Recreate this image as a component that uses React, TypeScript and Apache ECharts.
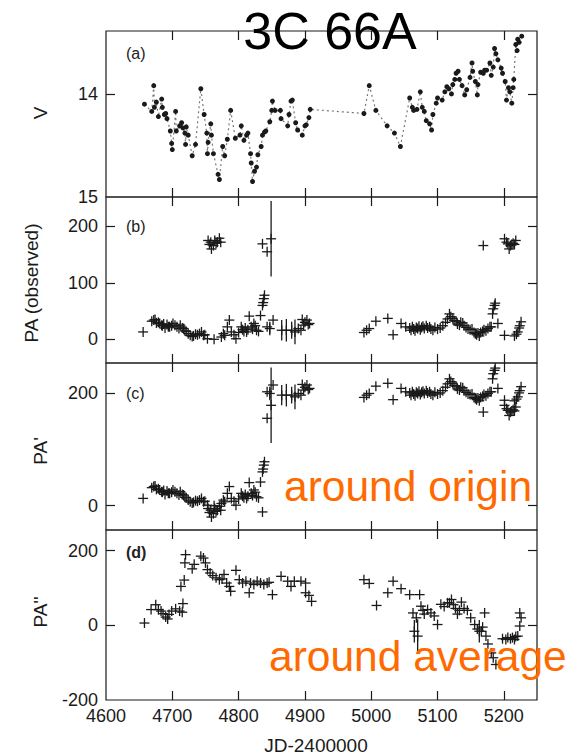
import React, { useEffect, useRef } from "react";
import * as echarts from "echarts";

const xTickValues = [4600, 4700, 4800, 4900, 5000, 5100, 5200];
const xInnerTicks = [4700, 4800, 4900, 5000, 5100, 5200];
const vTicks = [14, 15];
const paObsTicks = [0, 100, 200];
const paPrimeTicks = [0, 200];
const paDblTicks = [-200, 0, 200];

const panelLabels = ["(a)", "(b)", "(c)", "(d)"];
const yNames = ["V", "PA (observed)", "PA'", "PA''"];
const titleText = "3C 66A";
const xName = "JD-2400000";
const noteOrigin = "around origin";
const noteAverage = "around average";

// (a) V magnitude [JD-2400000, V]
const vData: number[][] = [
  [4658, 14.1], [4669, 14.17], [4672, 13.92], [4673, 14.13], [4676, 14.08], [4679, 14.22], [4684, 14.05],
  [4685, 14.13], [4688, 14.2], [4690, 14.19], [4692, 14.24], [4697, 14.36], [4699, 14.48], [4700, 14.54],
  [4705, 14.17], [4706, 14.36], [4711, 14.31], [4714, 14.28], [4716, 14.33], [4719, 14.38], [4720, 14.49],
  [4721, 14.32], [4724, 14.4], [4730, 14.6], [4735, 14.49], [4743, 13.95], [4748, 14.2], [4752, 14.38],
  [4753, 14.58], [4754, 14.47], [4758, 14.29], [4759, 14.4], [4762, 14.58], [4769, 14.78], [4771, 14.83],
  [4776, 14.51], [4779, 14.6], [4783, 14.44], [4788, 14.16], [4795, 14.43], [4802, 14.4], [4804, 14.31],
  [4808, 14.45], [4812, 14.4], [4814, 14.38], [4818, 14.58], [4819, 14.67], [4821, 14.85], [4824, 14.75],
  [4827, 14.71], [4829, 14.59], [4834, 14.51], [4836, 14.4], [4839, 14.37], [4841, 14.36], [4847, 14.27],
  [4850, 14.16], [4851, 14.07], [4855, 14.16], [4863, 14.16], [4864, 14.24], [4874, 14.31], [4876, 14.2],
  [4879, 14.07], [4881, 14.06], [4886, 14.28], [4889, 14.35], [4896, 14.4], [4900, 14.31], [4902, 14.3],
  [4906, 14.23], [4908, 14.15], [4989, 14.19], [4997, 13.92], [5007, 14.16], [5024, 14.31], [5035, 14.38],
  [5044, 14.51], [5058, 14.04], [5062, 14.13], [5064, 14.16], [5069, 14.15], [5074, 13.98], [5077, 14.13],
  [5080, 14.17], [5083, 14.26], [5088, 14.29], [5091, 14.35], [5093, 14.2], [5098, 14.09], [5100, 14.04],
  [5107, 14.06], [5111, 13.98], [5114, 13.93], [5117, 13.95], [5121, 14.0], [5123, 13.91], [5126, 13.86],
  [5128, 13.8], [5131, 13.78], [5133, 13.86], [5137, 13.92], [5141, 14.01], [5144, 13.96], [5149, 13.84],
  [5152, 13.7], [5153, 13.78], [5157, 13.88], [5160, 14.01], [5161, 13.91], [5165, 13.79], [5169, 13.8],
  [5171, 13.77], [5174, 13.77], [5179, 13.7], [5181, 13.82], [5184, 13.74], [5186, 13.56], [5188, 13.61],
  [5191, 13.67], [5196, 13.75], [5198, 13.8], [5202, 13.88], [5204, 14.06], [5207, 13.94], [5209, 13.98],
  [5212, 14.09], [5214, 13.94], [5215, 13.86], [5218, 13.52], [5220, 13.58], [5221, 13.47], [5223, 13.5],
  [5227, 13.44],
];

// (b) observed PA [JD, PA, error]
const paObs: number[][] = [
  [4656, 13, 0], [4669, 32, 0], [4672, 34, 0], [4674, 35, 0], [4676, 29, 0], [4679, 30, 0], [4681, 28, 0],
  [4684, 25, 0], [4685, 24, 0], [4687, 27, 0], [4689, 20, 0], [4692, 26, 0], [4694, 22, 0], [4696, 22, 0],
  [4699, 24, 0], [4701, 28, 0], [4704, 25, 0], [4707, 22, 0], [4710, 19, 0], [4712, 25, 0], [4715, 20, 0],
  [4717, 19, 0], [4719, 15, 0], [4721, 14, 0], [4724, 10, 0], [4727, 7, 0], [4730, 5, 0], [4732, 6, 0],
  [4735, 9, 0], [4738, 8, 0], [4741, 10, 0], [4744, 13, 0], [4747, 7, 0], [4749, 8, 0], [4753, 1, 0],
  [4754, 175, 0], [4756, 168, 0], [4758, 172, 0], [4759, 160, 0], [4762, 166, 0], [4763, 0, 0],
  [4764, 175, 0], [4766, 170, 0], [4768, 172, 0], [4771, 179, 0], [4773, 172, 0], [4774, 4, 0],
  [4777, 10, 0], [4779, 7, 0], [4783, 22, 0], [4786, 34, 0], [4789, 13, 0], [4793, 8, 0], [4796, 1, 0],
  [4800, 12, 0], [4804, 22, 0], [4806, 17, 0], [4808, 14, 0], [4810, 20, 0], [4812, 13, 0], [4814, 17, 0],
  [4816, 41, 0], [4819, 22, 0], [4821, 18, 0], [4823, 28, 0], [4825, 24, 0], [4827, 16, 0], [4830, 14, 0],
  [4833, 42, 0], [4836, 60, 0], [4836, 169, 0], [4837, 65, 0], [4838, 72, 0], [4839, 78, 0],
  [4843, 155, 0], [4843, 22, 0], [4847, 19, 12], [4849, 178, 67], [4852, 34, 0], [4865, 16, 18],
  [4872, 16, 20], [4880, 16, 15], [4885, 13, 22], [4890, 19, 0], [4894, 16, 0], [4896, 35, 0],
  [4898, 25, 0], [4900, 30, 0], [4903, 34, 0], [4905, 26, 0], [4907, 28, 0],
  [4989, 12, 0], [4993, 16, 0], [4997, 19, 0], [5007, 32, 0], [5025, 37, 0], [5033, 8, 0], [5045, 28, 0],
  [5052, 22, 0], [5058, 20, 0], [5060, 16, 0], [5062, 22, 0], [5064, 18, 0], [5066, 15, 0], [5068, 21, 0],
  [5070, 19, 0], [5072, 23, 0], [5074, 17, 0], [5076, 21, 0], [5078, 23, 0], [5080, 19, 0], [5083, 24, 0],
  [5085, 20, 0], [5088, 22, 0], [5090, 18, 0], [5093, 16, 0], [5096, 21, 0], [5100, 18, 0], [5104, 20, 0],
  [5108, 24, 0], [5112, 30, 0], [5115, 36, 0], [5118, 45, 0], [5120, 40, 0], [5123, 37, 0], [5125, 33, 0],
  [5128, 32, 0], [5130, 27, 0], [5133, 25, 0], [5135, 30, 0], [5138, 29, 0], [5140, 24, 0], [5143, 21, 0],
  [5146, 18, 0], [5149, 17, 0], [5152, 18, 0], [5155, 12, 0], [5157, 10, 0], [5159, 8, 0], [5161, 11, 0],
  [5163, 6, 0], [5165, 12, 0], [5168, 14, 0], [5169, 166, 0], [5170, 17, 0], [5173, 15, 0], [5176, 19, 0],
  [5179, 22, 0], [5181, 22, 0], [5183, 45, 0], [5184, 54, 0], [5186, 60, 0], [5187, 64, 0], [5191, 28, 0],
  [5201, 7, 0], [5201, 178, 0], [5204, 172, 0], [5206, 169, 0], [5208, 160, 0], [5210, 166, 0],
  [5212, 168, 0], [5214, 170, 0], [5216, 168, 0], [5218, 175, 0], [5216, 6, 0], [5219, 9, 0],
  [5221, 13, 0], [5223, 20, 0], [5224, 24, 0], [5226, 31, 0],
];

// (c) PA' [JD, PA', error]
const paPrime: number[][] = [
  [4656, 13, 0], [4669, 32, 0], [4672, 34, 0], [4674, 35, 0], [4676, 29, 0], [4679, 30, 0], [4681, 28, 0],
  [4684, 25, 0], [4685, 24, 0], [4687, 27, 0], [4689, 20, 0], [4692, 26, 0], [4694, 22, 0], [4696, 22, 0],
  [4699, 24, 0], [4701, 28, 0], [4704, 25, 0], [4707, 22, 0], [4710, 19, 0], [4712, 25, 0], [4715, 20, 0],
  [4717, 19, 0], [4719, 15, 0], [4721, 14, 0], [4724, 10, 0], [4727, 7, 0], [4730, 5, 0], [4732, 6, 0],
  [4735, 9, 0], [4738, 8, 0], [4741, 10, 0], [4744, 13, 0], [4747, 7, 0], [4749, 8, 0], [4753, 1, 0],
  [4754, -5, 0], [4756, -12, 0], [4758, -8, 0], [4759, -20, 0], [4762, -14, 0], [4763, 0, 0],
  [4764, -5, 0], [4766, -10, 0], [4768, -8, 0], [4771, -1, 0], [4773, -8, 0], [4774, 4, 0],
  [4777, 10, 0], [4779, 7, 0], [4783, 22, 0], [4786, 34, 0], [4789, 13, 0], [4793, 8, 0], [4796, 1, 0],
  [4800, 12, 0], [4804, 22, 0], [4806, 17, 0], [4808, 14, 0], [4810, 20, 0], [4812, 13, 0], [4814, 17, 0],
  [4816, 41, 0], [4819, 22, 0], [4821, 18, 0], [4823, 28, 0], [4825, 24, 0], [4827, 16, 0], [4830, 14, 0],
  [4833, 42, 0], [4836, 60, 0], [4836, -11, 0], [4837, 65, 0], [4838, 72, 0], [4839, 78, 0],
  [4843, 155, 0], [4843, 202, 0], [4847, 199, 12], [4849, 178, 67], [4852, 214, 0], [4865, 196, 18],
  [4872, 196, 20], [4880, 196, 15], [4885, 193, 22], [4890, 199, 0], [4894, 196, 0], [4896, 215, 0],
  [4898, 205, 0], [4900, 210, 0], [4903, 214, 0], [4905, 206, 0], [4907, 208, 0],
  [4989, 192, 0], [4993, 196, 0], [4997, 199, 0], [5007, 212, 0], [5025, 217, 0], [5033, 188, 0],
  [5045, 208, 0], [5052, 202, 0], [5058, 200, 0], [5060, 196, 0], [5062, 202, 0], [5064, 198, 0],
  [5066, 195, 0], [5068, 201, 0], [5070, 199, 0], [5072, 203, 0], [5074, 197, 0], [5076, 201, 0],
  [5078, 203, 0], [5080, 199, 0], [5083, 204, 0], [5085, 200, 0], [5088, 202, 0], [5090, 198, 0],
  [5093, 196, 0], [5096, 201, 0], [5100, 198, 0], [5104, 200, 0], [5108, 204, 0], [5112, 210, 0],
  [5115, 216, 0], [5118, 225, 0], [5120, 220, 0], [5123, 217, 0], [5125, 213, 0], [5128, 212, 0],
  [5130, 207, 0], [5133, 205, 0], [5135, 210, 0], [5138, 209, 0], [5140, 204, 0], [5143, 201, 0],
  [5146, 198, 0], [5149, 197, 0], [5152, 198, 0], [5155, 192, 0], [5157, 190, 0], [5159, 188, 0],
  [5161, 191, 0], [5163, 186, 0], [5165, 192, 0], [5168, 194, 0], [5169, 166, 0], [5170, 197, 0],
  [5173, 195, 0], [5176, 199, 0], [5179, 202, 0], [5181, 202, 0], [5183, 225, 0], [5184, 234, 0],
  [5186, 240, 0], [5187, 244, 0], [5191, 208, 0], [5201, 187, 0], [5201, 178, 0], [5204, 172, 0],
  [5206, 169, 0], [5208, 160, 0], [5210, 166, 0], [5212, 168, 0], [5214, 170, 0], [5216, 168, 0],
  [5218, 175, 0], [5216, 186, 0], [5219, 189, 0], [5221, 193, 0], [5223, 200, 0], [5224, 204, 0],
  [5226, 211, 0],
];

// (d) PA'' [JD, PA'', error]
const paDouble: number[][] = [
  [4658, 6, 0], [4668, 42, 0], [4675, 55, 0], [4679, 42, 0], [4683, 38, 0], [4686, 31, 0], [4690, 22, 0],
  [4693, 17, 0], [4695, 29, 0], [4699, 38, 0], [4705, 44, 0], [4711, 38, 0], [4716, 58, 0], [4715, 35, 0],
  [4713, 104, 0], [4718, 121, 0], [4719, 167, 0], [4720, 189, 0], [4730, 151, 0], [4733, 163, 0],
  [4743, 185, 0], [4747, 180, 0], [4750, 167, 0], [4753, 149, 0], [4757, 140, 0], [4761, 133, 0],
  [4766, 127, 0], [4771, 122, 0], [4775, 124, 0], [4778, 136, 0], [4782, 113, 0], [4786, 104, 0],
  [4788, 91, 0], [4796, 147, 0], [4801, 122, 0], [4806, 113, 0], [4811, 118, 0], [4816, 87, 0],
  [4818, 113, 0], [4823, 109, 0], [4828, 118, 0], [4833, 113, 0], [4838, 109, 0], [4843, 113, 0],
  [4846, 115, 0], [4851, 82, 0], [4864, 131, 0], [4874, 118, 0], [4879, 104, 0], [4884, 118, 0],
  [4894, 118, 0], [4901, 113, 0], [4901, 87, 0], [4906, 80, 0], [4910, 64, 0],
  [4989, 122, 0], [4997, 112, 0], [5008, 53, 0], [5025, 87, 0], [5033, 118, 0], [5045, 98, 0],
  [5058, 82, 0], [5063, 33, 0], [5065, -16, 30], [5068, 20, 0], [5070, -29, 45], [5073, 82, 0],
  [5075, 51, 0], [5078, 40, 0], [5080, 30, 0], [5085, 42, 0], [5090, 33, 0], [5095, 25, 0], [5100, 2, 0],
  [5105, 56, 0], [5110, 50, 0], [5115, 60, 0], [5118, 60, 0], [5121, 69, 0], [5124, 55, 0], [5127, 45, 0],
  [5130, 30, 0], [5133, 40, 0], [5136, 62, 0], [5140, 45, 0], [5145, 40, 0], [5150, 20, 0], [5156, 2, 0],
  [5160, -10, 0], [5163, -16, 30], [5166, -16, 0], [5168, -5, 0], [5171, 33, 0], [5173, -29, 0],
  [5176, -50, 0], [5181, -74, 0], [5184, -87, 0], [5188, -105, 0], [5198, -36, 0], [5203, -38, 0],
  [5206, -33, 0], [5210, -36, 0], [5213, -33, 0], [5216, -38, 0], [5218, -30, 0], [5221, -29, 0],
  [5224, -2, 0], [5226, 20, 0], [5224, 33, 0],
];

const FONT = "'Liberation Sans', Arial, Helvetica, sans-serif";
const INK = "#1a1a1a";

export default function App() {
  const ref = useRef<HTMLDivElement>(null);
  useEffect(() => {
    const chart = echarts.init(ref.current as HTMLDivElement, null, { renderer: "svg" });
    const left = 106;
    const width = 431;
    const panels = [
      { top: 31, height: 166, min: 13.39, max: 15, inverse: true, ticks: vTicks },
      { top: 197, height: 166, min: -42, max: 252, inverse: false, ticks: paObsTicks },
      { top: 363, height: 167, min: -43, max: 253, inverse: false, ticks: paPrimeTicks },
      { top: 530, height: 170, min: -200, max: 255, inverse: false, ticks: paDblTicks },
    ];
    const grid = panels.map((p) => ({
      left, width, top: p.top, height: p.height, show: true,
      borderColor: INK, borderWidth: 1.2, backgroundColor: "transparent",
    }));
    const tickStyle = { color: INK, width: 1.2 };
    const plain = (v: number) => String(v);
    const xAxis: any[] = [];
    const yAxis: any[] = [];
    panels.forEach((p, i) => {
      const last = i === panels.length - 1;
      xAxis.push({
        type: "value", gridIndex: i, position: "bottom", min: 4600, max: 5250,
        axisLine: { show: false, onZero: false }, splitLine: { show: false },
        axisTick: { show: true, inside: true, length: 9, customValues: xInnerTicks, lineStyle: tickStyle },
        axisLabel: { show: last, customValues: xTickValues, formatter: plain, fontSize: 18, fontFamily: FONT, color: INK, margin: 7 },
      });
      xAxis.push({
        type: "value", gridIndex: i, position: "top", min: 4600, max: 5250,
        axisLine: { show: false, onZero: false }, splitLine: { show: false },
        axisTick: { show: true, inside: true, length: 9, customValues: xInnerTicks, lineStyle: tickStyle },
        axisLabel: { show: false },
      });
      const inner = p.ticks.filter((t) => t > Math.min(p.min, p.max) + 1e-6 && t < Math.max(p.min, p.max) - 1e-6);
      yAxis.push({
        type: "value", gridIndex: i, position: "left", min: p.min, max: p.max, inverse: p.inverse,
        axisLine: { show: false, onZero: false }, splitLine: { show: false },
        axisTick: { show: true, inside: true, length: 9, customValues: inner, lineStyle: tickStyle },
        axisLabel: { show: true, customValues: p.ticks, formatter: plain, fontSize: 18, fontFamily: FONT, color: INK, margin: 8 },
      });
      yAxis.push({
        type: "value", gridIndex: i, position: "right", min: p.min, max: p.max, inverse: p.inverse,
        axisLine: { show: false, onZero: false }, splitLine: { show: false },
        axisTick: { show: true, inside: true, length: 9, customValues: inner, lineStyle: tickStyle },
        axisLabel: { show: false },
      });
    });

    const plusItem = (params: any, api: any) => {
      const x = api.value(0);
      const y = api.value(1);
      const e = api.value(2);
      const c = api.coord([x, y]);
      const h = 5;
      const style = { stroke: INK, lineWidth: 1.3, fill: null };
      const children: any[] = [
        { type: "line", shape: { x1: c[0] - h, y1: c[1], x2: c[0] + h, y2: c[1] }, style },
        { type: "line", shape: { x1: c[0], y1: c[1] - h, x2: c[0], y2: c[1] + h }, style },
      ];
      if (e > 0) {
        const t = api.coord([x, y + e]);
        const b = api.coord([x, y - e]);
        children.push({ type: "line", shape: { x1: t[0], y1: t[1], x2: b[0], y2: b[1] }, style });
      }
      return { type: "group", children };
    };

    const plusSeries = (data: number[][], i: number) => ({
      type: "custom", xAxisIndex: 2 * i, yAxisIndex: 2 * i, data,
      dimensions: ["x", "y", "e"], encode: { x: 0, y: 1 }, renderItem: plusItem, silent: true,
    });

    const series: any[] = [
      {
        type: "line", xAxisIndex: 0, yAxisIndex: 0, data: vData, symbol: "circle", symbolSize: 5,
        showSymbol: true, itemStyle: { color: INK }, lineStyle: { color: "#777", width: 1.2, type: [2, 3] },
        silent: true,
      },
      plusSeries(paObs, 1),
      plusSeries(paPrime, 2),
      plusSeries(paDouble, 3),
    ];

    const labelY = [54, 227, 394, 553];
    const nameY = [113, 283, 451, 612];
    const nameX = [40, 31, 40, 40];
    const graphic: any[] = [];
    panelLabels.forEach((t, i) => {
      graphic.push({
        type: "text", left: 126, top: labelY[i] - 9, z: 50,
        style: { text: t, fontSize: 16, fontFamily: FONT, fill: "#222", fontWeight: i === 3 ? "bold" : "normal" },
      });
    });
    yNames.forEach((t, i) => {
      graphic.push({
        type: "text", x: nameX[i], y: nameY[i], rotation: Math.PI / 2, z: 50,
        style: { text: t, fontSize: 19, fontFamily: FONT, fill: INK, align: "center", verticalAlign: "middle" },
      });
    });
    graphic.push({
      type: "text", x: 316, y: 745, z: 50,
      style: { text: xName, fontSize: 19, fontFamily: FONT, fill: INK, align: "center", verticalAlign: "middle" },
    });
    graphic.push({
      type: "text", x: 330, y: 31, z: 100,
      style: { text: titleText, fontSize: 52, fontFamily: FONT, fill: "#000", align: "center", verticalAlign: "middle" },
    });
    graphic.push({
      type: "text", x: 284, y: 486, z: 100,
      style: { text: noteOrigin, fontSize: 42.5, fontFamily: FONT, fill: "#ff6a00", align: "left", verticalAlign: "middle" },
    });
    graphic.push({
      type: "text", x: 269, y: 656, z: 100,
      style: { text: noteAverage, fontSize: 42.5, fontFamily: FONT, fill: "#ff6a00", align: "left", verticalAlign: "middle" },
    });

    chart.setOption({
      animation: false,
      backgroundColor: "#ffffff",
      grid, xAxis, yAxis, series, graphic,
    });
    return () => chart.dispose();
  }, []);
  return <div ref={ref} style={{ position: "absolute", left: 0, top: 0, width: 576, height: 756 }} />;
}
